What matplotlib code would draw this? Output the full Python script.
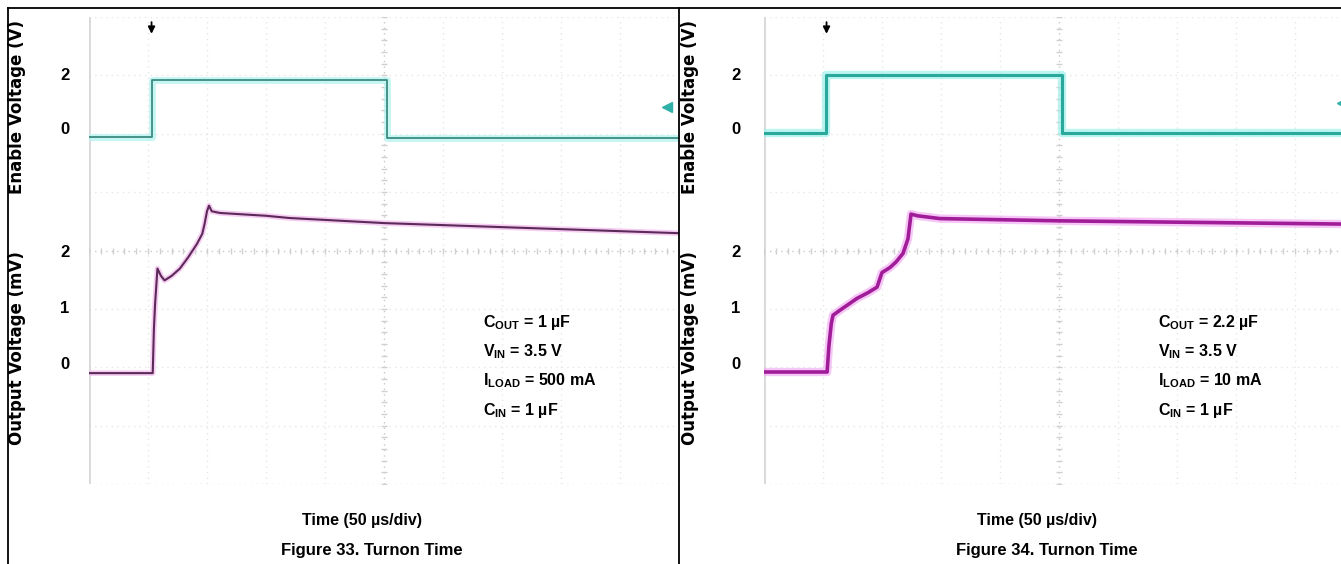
import matplotlib
matplotlib.use("Agg")
import matplotlib.pyplot as plt
from matplotlib.lines import Line2D
import numpy as np

W, H = 1341, 564
NARROW = ['Liberation Sans Narrow', 'Liberation Sans', 'DejaVu Sans']
plt.rcParams['mathtext.fontset'] = 'custom'
plt.rcParams['mathtext.bf'] = 'Liberation Sans:bold'
plt.rcParams['mathtext.rm'] = 'Liberation Sans:bold'

# ---- data (time in us, enable in V, output in mV) ----
en33_t = [0, 53, 53, 252.5, 252.5, 500]
en33_v = [-0.33, -0.33, 1.76, 1.76, -0.35, -0.35]
out33_t = [0, 54, 55, 56, 58, 61, 64, 70, 77, 84, 91.5, 96, 98, 100, 101.7,
           104, 111, 150, 170, 250, 375, 500]
out33_v = [-0.18, -0.18, 0.6, 1.05, 1.68, 1.55, 1.47, 1.55, 1.68, 1.88, 2.12,
           2.3, 2.48, 2.7, 2.8, 2.7, 2.67, 2.62, 2.58, 2.49, 2.4, 2.31]

en34_t = [0, 52.5, 52.5, 252.5, 252.5, 500]
en34_v = [-0.18, -0.18, 1.94, 1.94, -0.2, -0.2]
out34_t = [0, 53.5, 55, 57, 58.5, 64.4, 72, 78.8, 88, 95.8, 100, 106.8, 112,
           117.8, 122, 124.6, 130, 149, 250, 375, 500]
out34_v = [-0.16, -0.16, 0.3, 0.7, 0.85, 0.94, 1.05, 1.15, 1.25, 1.35, 1.61,
           1.70, 1.8, 1.95, 2.21, 2.65, 2.62, 2.57, 2.53, 2.5, 2.47]

trig_t = 53
en_ticks = [0, 2]
out_ticks = [0, 1, 2]

notes33 = [r'C$_{\mathbf{OUT}}$ = 1 µF', r'V$_{\mathbf{IN}}$ = 3.5 V',
           r'I$_{\mathbf{LOAD}}$ = 500 mA', r'C$_{\mathbf{IN}}$ = 1 µF']
notes34 = [r'C$_{\mathbf{OUT}}$ = 2.2 µF', r'V$_{\mathbf{IN}}$ = 3.5 V',
           r'I$_{\mathbf{LOAD}}$ = 10 mA', r'C$_{\mathbf{IN}}$ = 1 µF']

fig = plt.figure(figsize=(W / 100, H / 100), dpi=100)


def px(x, y):
    return x / W, 1 - y / H


def panel(x0, en_t, en_v, out_t, out_v, notes, title, heavy, level_y, pad):
    rect = [x0 / W, (H - 484) / H, 590 / W, 467 / H]
    ax = fig.add_axes(rect)
    ax2 = fig.add_axes(rect)
    ax2.patch.set_visible(False)
    for a in (ax, ax2):
        a.set_xlim(0, 500)
        for s in a.spines.values():
            s.set_visible(False)
        a.set_xticks([])
    ax.set_ylim(-2.153, 6.157)
    ax2.set_ylim(-13.06, 4.073)

    # scope graticule
    for k in range(11):
        c = '#c8c8c8' if k == 5 else '#e6e6e6'
        ax.plot([k / 10, k / 10], [0, 1], transform=ax.transAxes, color=c,
                lw=1, ls=(0, (1, 3)), zorder=0)
    for k in range(9):
        c = '#c8c8c8' if k in (0, 4) else '#e6e6e6'
        ax.plot([0, 1], [k / 8, k / 8], transform=ax.transAxes, color=c,
                lw=1, ls=(0, (1, 3)), zorder=0)
    ax.plot([0, 0], [0, 1], transform=ax.transAxes, color='#d8d8d8', lw=2, zorder=0)
    ax.plot(np.arange(0, 1.001, 0.02), [0.5] * 51, transform=ax.transAxes,
            ls='none', marker='|', ms=4, color='#d0d0d0', zorder=0)
    ax.plot([0.5] * 41, np.arange(0, 1.001, 0.025), transform=ax.transAxes,
            ls='none', marker='_', ms=4, color='#d0d0d0', zorder=0)

    ax.set_yticks(out_ticks)
    ax2.set_yticks(en_ticks)
    for a in (ax, ax2):
        a.tick_params(axis='y', length=0, pad=pad, labelsize=12)
        for lab in a.get_yticklabels():
            lab.set_fontweight('bold')
            lab.set_family('Liberation Sans')

    # traces: glow + core
    if heavy:
        ax2.plot(en_t, en_v, color='#9ff0ea', lw=6, alpha=0.7)
        ax2.plot(en_t, en_v, color='#2aa89c', lw=2.2)
        ax.plot(out_t, out_v, color='#f0a0f0', lw=6, alpha=0.6)
        ax.plot(out_t, out_v, color='#a01c98', lw=2.6)
    else:
        ax2.plot(en_t, en_v, color='#b8f4f2', lw=5, alpha=0.8)
        ax2.plot(en_t, en_v, color='#3c8a80', lw=1.3)
        ax.plot(out_t, out_v, color='#f4c0f0', lw=4, alpha=0.8)
        ax.plot(out_t, out_v, color='#5c2a58', lw=1.5)

    # trigger point and level markers
    ax.annotate('', xy=(trig_t, 0.958), xycoords=('data', 'axes fraction'),
                xytext=(trig_t, 0.995), textcoords=('data', 'axes fraction'),
                arrowprops=dict(arrowstyle='-|>', color='black', lw=1.3,
                                mutation_scale=10))
    ax2.plot([490], [level_y], marker='<', ms=7, color='#30b0a8', clip_on=False)

    for i, s in enumerate(notes):
        fig.text(*px(x0 + 394, 322 + 29.5 * i), s, family=NARROW,
                 fontweight='bold', fontsize=11.5, va='center', ha='left')
    fig.text(*px(x0 + 273, 520), 'Time (50 µs/div)', family=NARROW,
             fontweight='bold', fontsize=11.5, ha='center', va='center')
    fig.text(*px(x0 + 283, 550), title, family=NARROW,
             fontweight='bold', fontsize=12, ha='center', va='center')
    return ax


panel(89, en33_t, en33_v, out33_t, out33_v, notes33,
      'Figure 33. Turnon Time', False, 0.77, 14)
panel(764, en34_t, en34_v, out34_t, out34_v, notes34,
      'Figure 34. Turnon Time', True, 0.92, 17)

for x0 in (17, 690):
    fig.text(*px(x0, 107), 'Enable Voltage (V)', rotation=90, fontsize=12,
             fontweight='bold', family='DejaVu Sans', ha='center', va='center')
    fig.text(*px(x0, 348), 'Output Voltage (mV)', rotation=90, fontsize=12,
             fontweight='bold', family='DejaVu Sans', ha='center', va='center')

# page frame lines
for xs, ys in (([8, W], [8, 8]), ([8, 8], [8, H]), ([679, 679], [8, H])):
    fig.add_artist(Line2D([x / W for x in xs], [1 - y / H for y in ys],
                          transform=fig.transFigure, color='black', lw=1.3))

fig.savefig('out.png', dpi=100)
